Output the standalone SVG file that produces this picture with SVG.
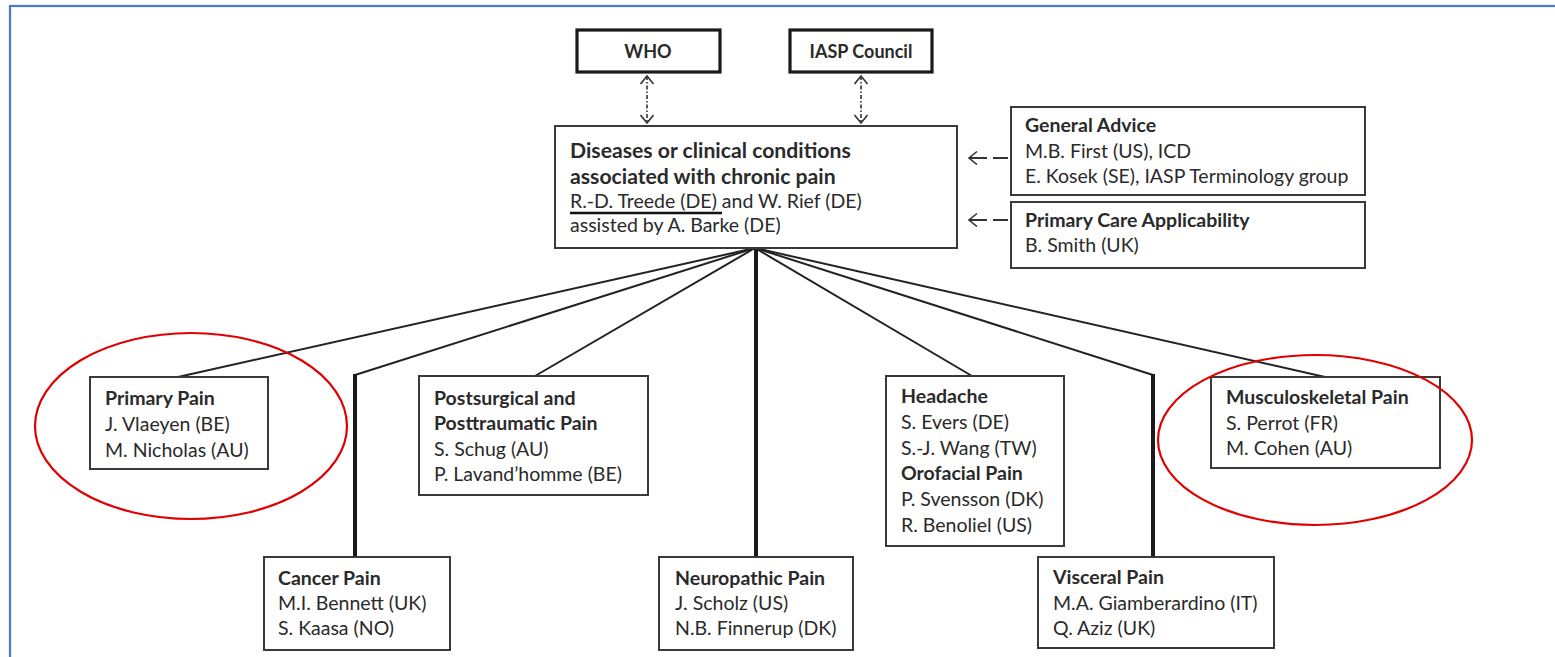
<svg xmlns="http://www.w3.org/2000/svg" width="1555" height="657" viewBox="0 0 1555 657">
<style>
  .bx{fill:#fff;stroke:#3a3a3a;stroke-width:2}
  .bxk{fill:#fff;stroke:#1a1a1a;stroke-width:3.2}
  text{font-family:Lato,"Open Sans","Liberation Sans",sans-serif;fill:#2a2a2a;font-size:19.5px}
  .b{font-weight:bold}
  .h{font-weight:bold;font-size:18px}
  .t{font-weight:bold;font-size:21.2px}
  .ln{stroke:#222;stroke-width:2;fill:none}
  .th{stroke:#1a1a1a;stroke-width:4;fill:none}
  .dash{stroke:#333;stroke-width:1.6;fill:none;stroke-dasharray:4 2 1.5 2}
  .red{fill:none;stroke:#e00000;stroke-width:2.2}
</style>
<defs>
  <marker id="chev" markerUnits="userSpaceOnUse" markerWidth="12" markerHeight="16" refX="9" refY="7" orient="auto-start-reverse" viewBox="0 0 12 16">
    <path d="M1,0.5 L9,7 L1,13.5" fill="none" stroke="#333" stroke-width="1.6" stroke-dasharray="none"/>
  </marker>
</defs>
<rect x="0" y="0" width="1555" height="657" fill="#fff"/>
<rect x="10" y="6" width="1600" height="700" fill="none" stroke="#4a78cc" stroke-width="2.2"/>

<g id="connectors">
  <line class="ln" x1="755" y1="248" x2="178" y2="377"/>
  <polyline class="ln" points="755,248 355,375"/>
  <line class="th" x1="355" y1="374" x2="355" y2="557"/>
  <line class="ln" x1="755" y1="248" x2="535" y2="376"/>
  <line class="th" x1="756" y1="248" x2="756" y2="557"/>
  <line class="ln" x1="755" y1="248" x2="972" y2="376"/>
  <polyline class="ln" points="755,248 1153,375"/>
  <line class="th" x1="1153" y1="374" x2="1153" y2="557"/>
  <line class="ln" x1="755" y1="248" x2="1325" y2="377"/>
  <line class="dash" x1="647" y1="76" x2="647" y2="123" marker-start="url(#chev)" marker-end="url(#chev)"/>
  <line class="dash" x1="861" y1="76" x2="861" y2="123" marker-start="url(#chev)" marker-end="url(#chev)"/>
  <path d="M969,158 H1008" stroke="#333" stroke-width="1.8" fill="none" stroke-dasharray="18 6 15" marker-start="url(#chev)"/>
  <path d="M969,220 H1008" stroke="#333" stroke-width="1.8" fill="none" stroke-dasharray="18 6 15" marker-start="url(#chev)"/>
</g>

<g id="who">
  <rect class="bxk" x="577" y="30" width="143" height="42"/>
  <text class="h" x="648" y="58" text-anchor="middle">WHO</text>
</g>
<g id="iasp-council">
  <rect class="bxk" x="790" y="30" width="142" height="42"/>
  <text class="h" x="861" y="58" text-anchor="middle">IASP Council</text>
</g>

<g id="central">
  <rect class="bx" x="555" y="126" width="402" height="122"/>
  <text class="t" x="570" y="158">Diseases or clinical conditions</text>
  <text class="t" x="570" y="184">associated with chronic pain</text>
  <text x="570" y="208">R.-D. Treede (DE) and W. Rief (DE)</text>
  <line x1="570" y1="213" x2="722" y2="213" stroke="#111" stroke-width="2.6"/>
  <text x="570" y="232">assisted by A. Barke (DE)</text>
</g>

<g id="general-advice">
  <rect class="bx" x="1011" y="107" width="354" height="88"/>
  <text class="b" x="1025" y="132">General Advice</text>
  <text x="1025" y="158">M.B. First (US), ICD</text>
  <text x="1025" y="183">E. Kosek (SE), IASP Terminology group</text>
</g>
<g id="primary-care">
  <rect class="bx" x="1011" y="202" width="354" height="66"/>
  <text class="b" x="1025" y="227">Primary Care Applicability</text>
  <text x="1025" y="252">B. Smith (UK)</text>
</g>

<g id="primary-pain">
  <rect class="bx" x="90" y="377" width="178" height="92"/>
  <text class="b" x="105" y="405">Primary Pain</text>
  <text x="105" y="431">J. Vlaeyen (BE)</text>
  <text x="105" y="457">M. Nicholas (AU)</text>
</g>
<g id="postsurgical">
  <rect class="bx" x="419" y="376" width="229" height="119"/>
  <text class="b" x="434" y="405">Postsurgical and</text>
  <text class="b" x="434" y="430">Posttraumatic Pain</text>
  <text x="434" y="456">S. Schug (AU)</text>
  <text x="434" y="481">P. Lavand’homme (BE)</text>
</g>
<g id="cancer">
  <rect class="bx" x="264" y="557" width="186" height="93"/>
  <text class="b" x="278" y="585">Cancer Pain</text>
  <text x="278" y="610">M.I. Bennett (UK)</text>
  <text x="278" y="635">S. Kaasa (NO)</text>
</g>
<g id="neuropathic">
  <rect class="bx" x="659" y="557" width="194" height="93"/>
  <text class="b" x="675" y="585">Neuropathic Pain</text>
  <text x="675" y="610">J. Scholz (US)</text>
  <text x="675" y="635">N.B. Finnerup (DK)</text>
</g>
<g id="headache">
  <rect class="bx" x="886" y="376" width="178" height="170"/>
  <text class="b" x="901" y="403">Headache</text>
  <text x="901" y="429">S. Evers (DE)</text>
  <text x="901" y="455">S.-J. Wang (TW)</text>
  <text class="b" x="901" y="480">Orofacial Pain</text>
  <text x="901" y="506">P. Svensson (DK)</text>
  <text x="901" y="532">R. Benoliel (US)</text>
</g>
<g id="musculoskeletal">
  <rect class="bx" x="1211" y="377" width="229" height="91"/>
  <text class="b" x="1226" y="404">Musculoskeletal Pain</text>
  <text x="1226" y="430">S. Perrot (FR)</text>
  <text x="1226" y="455">M. Cohen (AU)</text>
</g>
<g id="visceral">
  <rect class="bx" x="1038" y="557" width="236" height="91"/>
  <text class="b" x="1053" y="584">Visceral Pain</text>
  <text x="1053" y="610">M.A. Giamberardino (IT)</text>
  <text x="1053" y="635">Q. Aziz (UK)</text>
</g>

<g id="highlights">
  <ellipse class="red" cx="191" cy="426" rx="156" ry="93"/>
  <ellipse class="red" cx="1315" cy="440" rx="157" ry="85"/>
</g>
</svg>
